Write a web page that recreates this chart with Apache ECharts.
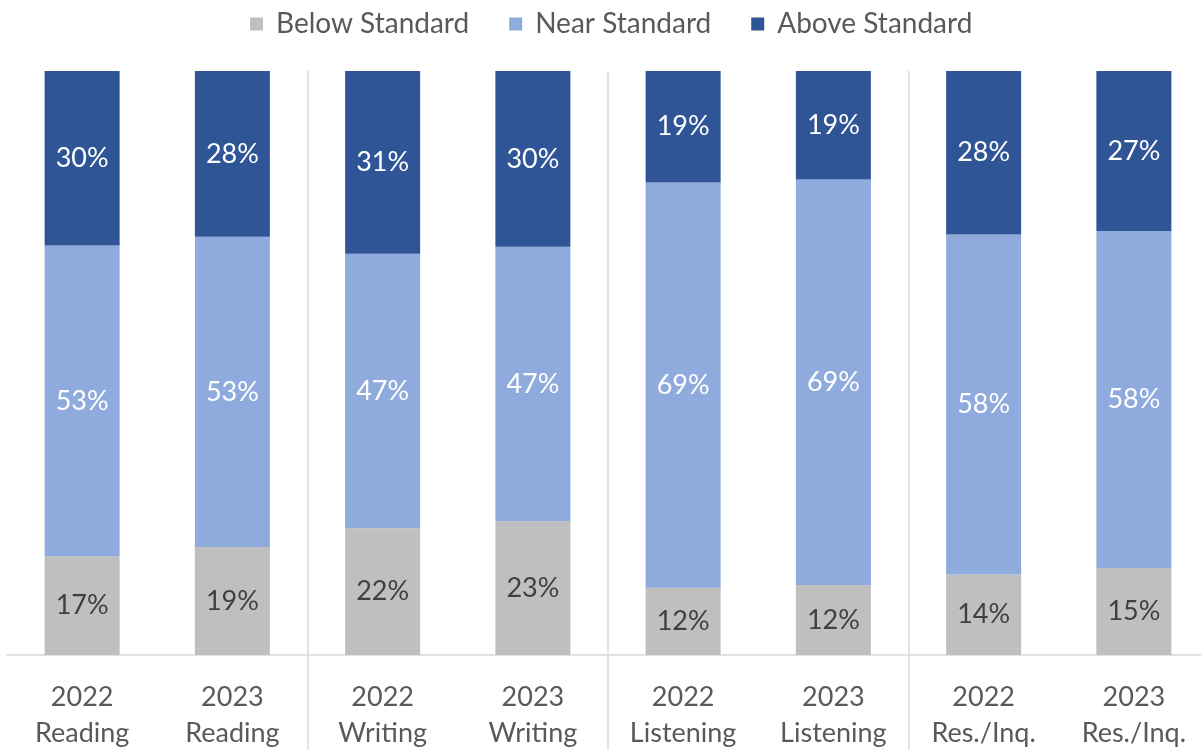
<!DOCTYPE html>
<html>
<head>
<meta charset="utf-8">
<script src="https://cdn.jsdelivr.net/npm/echarts@6/dist/echarts.min.js"></script>
<style>html,body{margin:0;padding:0;background:#fff;overflow:hidden;}#c{width:1210px;height:751px;}</style>
</head>
<body>
<div id="c"></div>
<script>
const categories = ['2022\nReading','2023\nReading','2022\nWriting','2023\nWriting','2022\nListening','2023\nListening','2022\nRes./Inq.','2023\nRes./Inq.'];
const belowStandard = [16.9, 18.5, 21.7, 22.9, 11.5, 12.0, 13.8, 14.9];
const nearStandard  = [53.2, 53.1, 47.0, 47.0, 69.4, 69.4, 58.2, 57.7];
const aboveStandard = [29.9, 28.4, 31.3, 30.1, 19.1, 18.6, 28.0, 27.4];
const seriesNames = ['Below Standard','Near Standard','Above Standard'];

const FONT = 'Lato, "Open Sans", sans-serif';
const chart = echarts.init(document.getElementById('c'), null, {renderer:'canvas'});
const lbl = (color) => ({
  show: true, position: 'inside', color: color, fontFamily: FONT, fontSize: 27,
  formatter: p => Math.round(p.value) + '%'
});
const sepFn = (i) => i === 2 || i === 4 || i === 6;
chart.setOption({
  animation: false,
  color: ['#BFBFBF','#8FAADC','#2F5597'],
  legend: {
    top: 5, left: 245, itemWidth: 13, itemHeight: 13, itemGap: 40,
    icon: 'rect',
    textStyle: {color:'#595959', fontFamily: FONT, fontSize: 28, padding: [0,0,0,8]},
    data: seriesNames
  },
  grid: {left: 7, top: 71, right: 1, bottom: 95, containLabel: false},
  xAxis: {
    type: 'category', data: categories, boundaryGap: true,
    axisLine: {show: true, lineStyle: {color:'#D9D9D9', width: 1.5}},
    axisTick: {show: true, interval: sepFn, length: 95, lineStyle: {color:'#D9D9D9', width: 1.5}},
    splitLine: {show: true, interval: sepFn, lineStyle: {color:'#D9D9D9', width: 1.5}},
    axisLabel: {color:'#595959', fontFamily: FONT, fontSize: 27, lineHeight: 36, margin: 24, interval: 0}
  },
  yAxis: {type: 'value', min: 0, max: 100, show: false, splitLine:{show:false}},
  series: [
    {name: seriesNames[0], type: 'bar', stack: 't', barWidth: 75, data: belowStandard, label: lbl('#404040')},
    {name: seriesNames[1], type: 'bar', stack: 't', barWidth: 75, data: nearStandard, label: lbl('#ffffff')},
    {name: seriesNames[2], type: 'bar', stack: 't', barWidth: 75, data: aboveStandard, label: lbl('#ffffff')}
  ]
});
</script>
</body>
</html>
